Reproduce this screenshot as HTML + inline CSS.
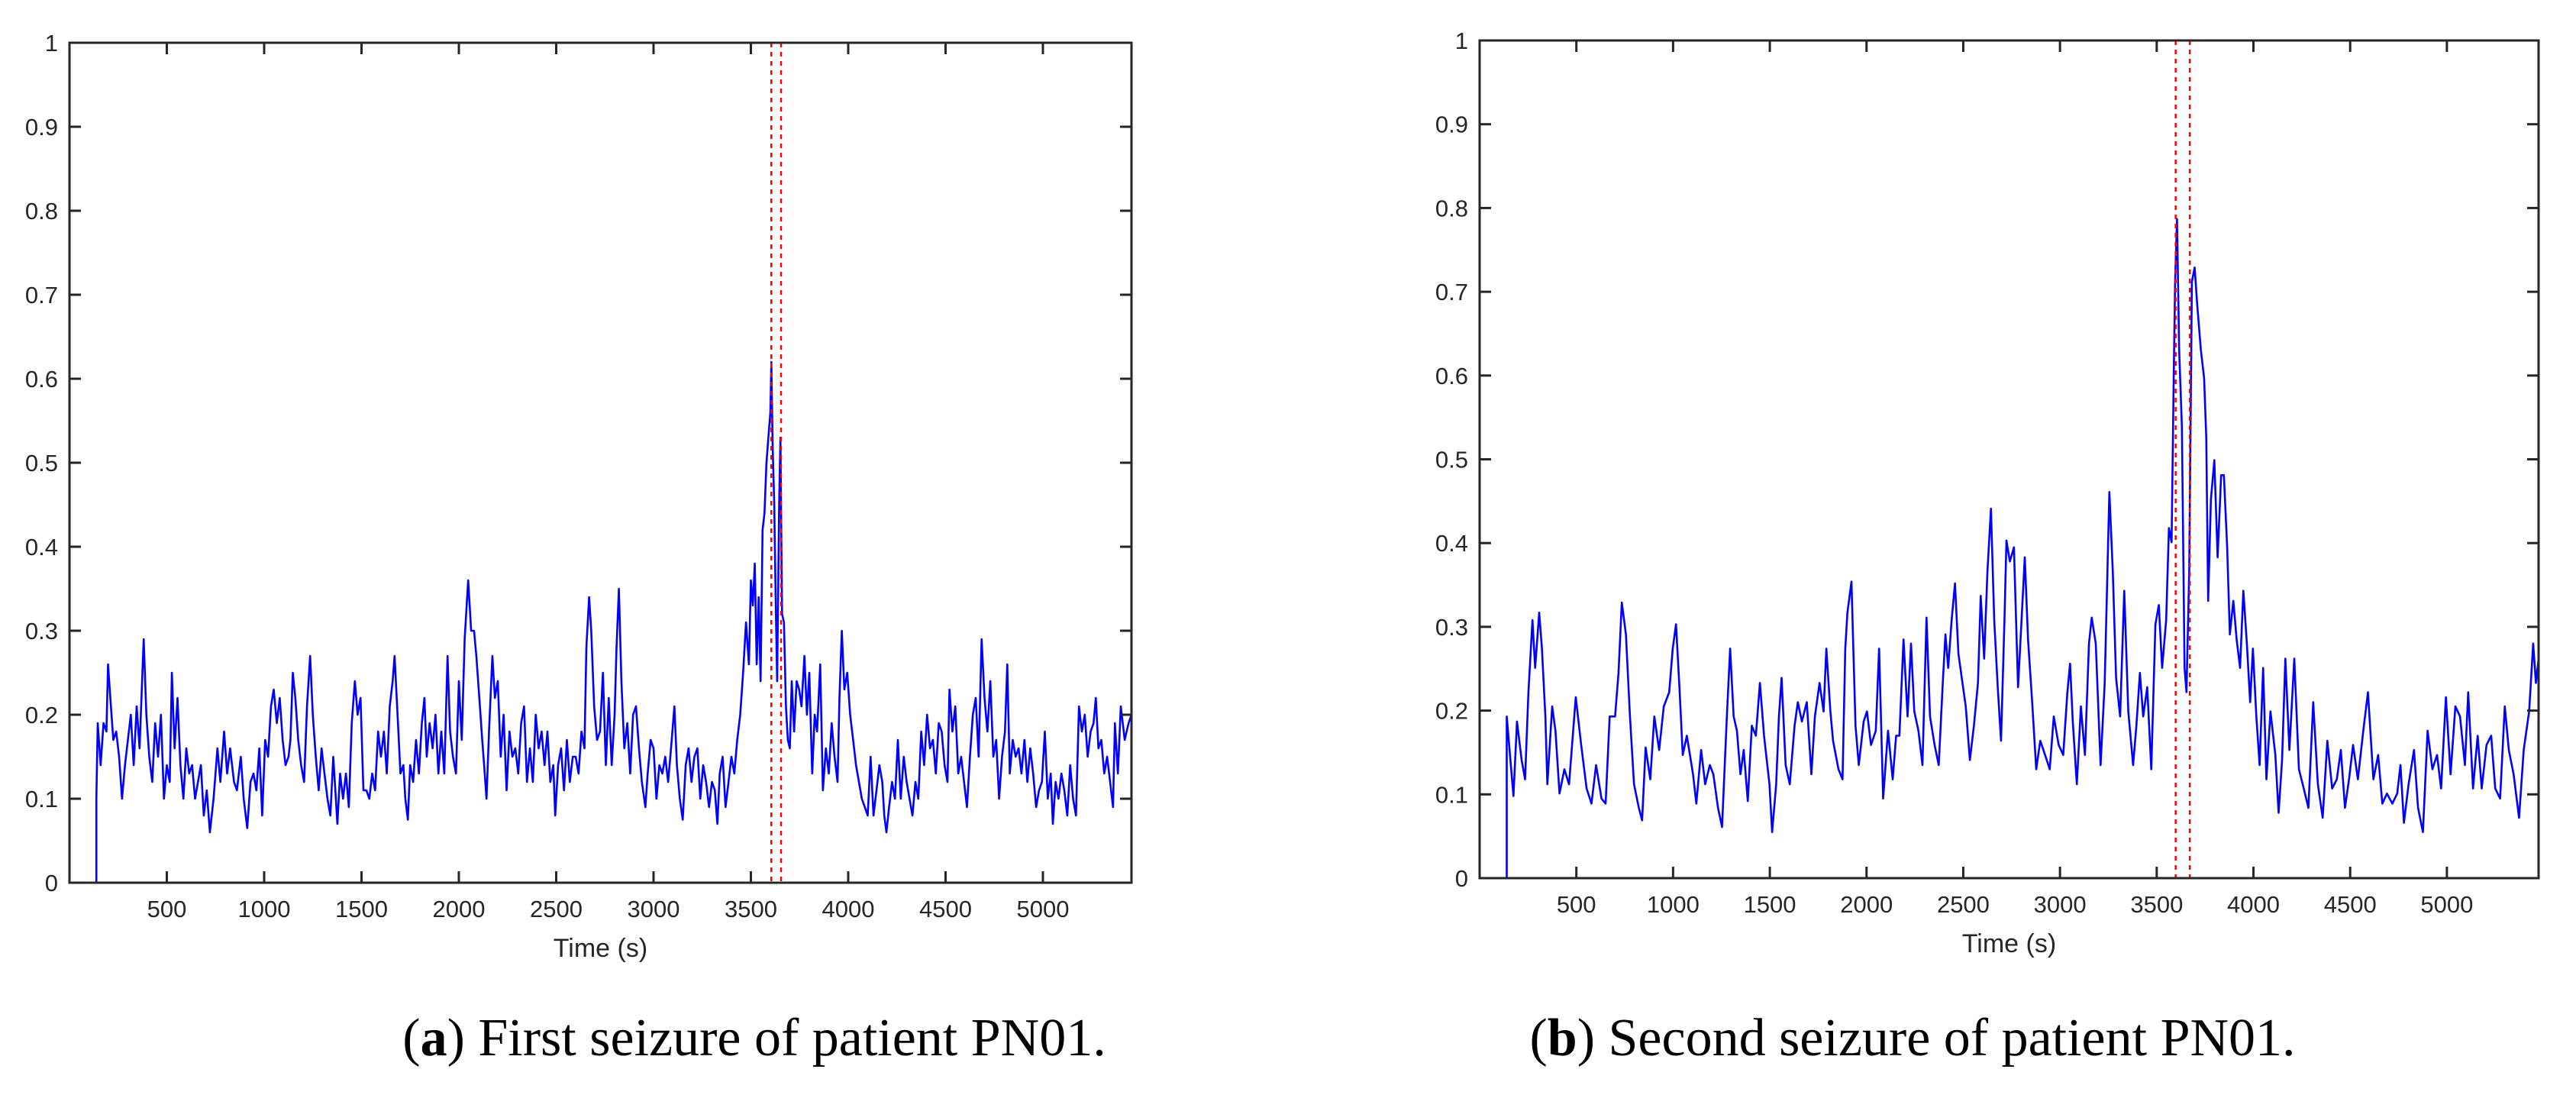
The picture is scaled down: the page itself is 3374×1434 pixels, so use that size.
<!DOCTYPE html>
<html><head><meta charset="utf-8"><style>
html,body{margin:0;padding:0;background:#fff;}
svg{display:block;}
</style></head>
<body>
<svg id="chart" width="3374" height="1434" viewBox="0 0 3374 1434" xmlns="http://www.w3.org/2000/svg">
<rect width="3374" height="1434" fill="#fff"/>
<g id="panelA"></g>
<g id="panelB"></g>
<text x="988" y="1382" text-anchor="middle" font-family="Liberation Serif, serif" font-size="70" fill="#000">(<tspan font-weight="bold">a</tspan>) First seizure of patient PN01.</text>
<text x="2505" y="1382" text-anchor="middle" font-family="Liberation Serif, serif" font-size="70" fill="#000">(<tspan font-weight="bold">b</tspan>) Second seizure of patient PN01.</text>
</svg>
<script>
const xTicks = [500,1000,1500,2000,2500,3000,3500,4000,4500,5000];
const yTicks = [0,0.1,0.2,0.3,0.4,0.5,0.6,0.7,0.8,0.9,1];
const yTickLabels = ["0","0.1","0.2","0.3","0.4","0.5","0.6","0.7","0.8","0.9","1"];
const xLabel = "Time (s)";

const timesA = [0,138,138,145,160,175,190,198,210,225,240,255,270,285,300,315,330,345,360,381,395,410,425,440,455,470,485,500,515,526,540,555,570,585,600,615,630,645,660,675,690,705,721,740,760,775,794,810,825,845,860,880,895,913,930,945,960,975,990,1005,1020,1035,1049,1065,1080,1095,1110,1125,1135,1147,1160,1175,1190,1205,1220,1236,1250,1265,1280,1295,1310,1325,1340,1355,1376,1390,1405,1420,1435,1450,1466,1480,1495,1510,1525,1540,1555,1570,1585,1600,1615,1630,1645,1660,1670,1685,1700,1715,1725,1738,1750,1765,1780,1795,1810,1823,1835,1850,1865,1880,1895,1910,1925,1942,1955,1970,1985,2000,2015,2030,2048,2063,2078,2090,2105,2120,2130,2142,2155,2172,2185,2200,2215,2230,2245,2260,2275,2290,2305,2320,2335,2350,2365,2380,2395,2410,2425,2440,2455,2470,2485,2495,2510,2525,2540,2555,2570,2585,2600,2615,2630,2645,2655,2669,2680,2695,2710,2725,2740,2755,2770,2785,2800,2810,2822,2835,2850,2865,2880,2895,2910,2925,2940,2958,2970,2985,3000,3015,3030,3045,3060,3075,3090,3107,3120,3135,3150,3165,3180,3195,3210,3225,3240,3255,3270,3285,3300,3315,3328,3340,3355,3370,3385,3400,3415,3430,3445,3460,3475,3490,3500,3510,3520,3530,3540,3550,3560,3570,3580,3590,3600,3605,3612,3620,3628,3635,3645,3652,3660,3670,3680,3690,3700,3710,3722,3735,3748,3760,3775,3788,3800,3815,3828,3840,3856,3870,3885,3900,3915,3930,3945,3955,3967,3980,3995,4010,4025,4040,4055,4070,4085,4100,4115,4130,4145,4160,4175,4185,4196,4210,4225,4240,4255,4270,4285,4300,4315,4330,4345,4360,4375,4390,4405,4420,4435,4450,4465,4480,4495,4510,4520,4535,4550,4565,4580,4595,4610,4625,4640,4655,4670,4685,4700,4715,4730,4745,4760,4775,4790,4805,4817,4830,4845,4860,4875,4890,4905,4920,4935,4950,4965,4980,4995,5010,5025,5040,5051,5065,5080,5095,5110,5125,5140,5155,5170,5185,5200,5215,5230,5245,5260,5272,5285,5300,5315,5330,5345,5360,5370,5385,5400,5420,5440,5455];
const valuesA = [0,0,0.10,0.19,0.14,0.19,0.18,0.26,0.22,0.17,0.18,0.15,0.10,0.14,0.17,0.20,0.14,0.21,0.16,0.29,0.20,0.15,0.12,0.19,0.15,0.20,0.10,0.14,0.12,0.25,0.16,0.22,0.14,0.10,0.16,0.13,0.14,0.10,0.12,0.14,0.08,0.11,0.06,0.10,0.16,0.12,0.18,0.13,0.16,0.12,0.11,0.15,0.10,0.065,0.12,0.13,0.11,0.16,0.08,0.17,0.15,0.21,0.23,0.19,0.22,0.17,0.14,0.15,0.17,0.25,0.22,0.17,0.14,0.12,0.21,0.27,0.20,0.15,0.11,0.16,0.13,0.10,0.08,0.15,0.07,0.13,0.10,0.13,0.09,0.19,0.24,0.20,0.22,0.11,0.11,0.10,0.13,0.11,0.18,0.15,0.18,0.13,0.21,0.24,0.27,0.20,0.13,0.14,0.10,0.075,0.14,0.12,0.17,0.13,0.19,0.22,0.15,0.19,0.16,0.20,0.13,0.18,0.13,0.27,0.18,0.15,0.13,0.24,0.17,0.29,0.36,0.30,0.30,0.27,0.22,0.17,0.14,0.10,0.18,0.27,0.22,0.24,0.15,0.20,0.11,0.18,0.15,0.16,0.13,0.19,0.21,0.12,0.16,0.12,0.20,0.16,0.18,0.14,0.18,0.12,0.14,0.08,0.14,0.16,0.11,0.17,0.12,0.15,0.15,0.13,0.18,0.16,0.28,0.34,0.30,0.21,0.17,0.18,0.25,0.14,0.22,0.14,0.20,0.28,0.35,0.24,0.16,0.19,0.13,0.20,0.21,0.16,0.12,0.09,0.13,0.17,0.16,0.10,0.14,0.13,0.15,0.12,0.16,0.21,0.14,0.10,0.075,0.14,0.16,0.12,0.15,0.16,0.10,0.14,0.12,0.09,0.12,0.11,0.07,0.13,0.15,0.09,0.12,0.15,0.13,0.17,0.20,0.25,0.31,0.26,0.36,0.33,0.38,0.26,0.34,0.24,0.42,0.44,0.50,0.53,0.56,0.62,0.52,0.45,0.33,0.24,0.45,0.53,0.32,0.31,0.21,0.17,0.16,0.24,0.18,0.24,0.23,0.21,0.27,0.20,0.25,0.13,0.20,0.18,0.26,0.11,0.16,0.13,0.19,0.15,0.12,0.22,0.30,0.23,0.25,0.20,0.17,0.14,0.12,0.10,0.09,0.08,0.15,0.08,0.11,0.14,0.12,0.08,0.06,0.09,0.12,0.10,0.17,0.10,0.15,0.12,0.10,0.08,0.12,0.10,0.18,0.14,0.20,0.16,0.17,0.13,0.19,0.18,0.14,0.12,0.23,0.18,0.21,0.13,0.15,0.12,0.09,0.15,0.20,0.22,0.15,0.29,0.22,0.18,0.24,0.15,0.17,0.10,0.15,0.18,0.26,0.13,0.17,0.15,0.16,0.13,0.17,0.12,0.16,0.13,0.09,0.11,0.12,0.18,0.10,0.13,0.07,0.12,0.10,0.13,0.11,0.08,0.14,0.10,0.08,0.21,0.18,0.20,0.15,0.18,0.19,0.22,0.16,0.17,0.13,0.15,0.12,0.09,0.19,0.13,0.21,0.17,0.19,0.20];
const markersA = [3605,3655];

const timesB = [0,140,140,175,193,217,235,252,273,287,308,322,340,350,375,392,413,438,462,497,525,553,578,602,630,651,672,700,718,735,756,777,798,823,840,858,882,903,928,952,980,998,1015,1033,1050,1071,1103,1120,1145,1166,1190,1208,1232,1253,1278,1295,1313,1330,1348,1365,1386,1407,1428,1449,1470,1498,1512,1533,1547,1561,1582,1603,1628,1645,1666,1691,1715,1733,1757,1778,1792,1813,1827,1855,1876,1890,1901,1922,1943,1960,1985,2002,2023,2048,2065,2086,2111,2135,2153,2170,2191,2212,2230,2247,2268,2289,2310,2328,2352,2373,2394,2408,2422,2440,2457,2475,2496,2513,2534,2555,2576,2590,2608,2625,2643,2660,2678,2695,2713,2723,2741,2762,2783,2800,2818,2835,2856,2877,2898,2923,2947,2968,2993,3017,3038,3052,3066,3087,3108,3129,3150,3164,3185,3210,3231,3255,3273,3290,3311,3332,3353,3378,3395,3413,3430,3451,3472,3493,3511,3528,3549,3563,3577,3588,3595,3605,3616,3630,3644,3654,3668,3682,3696,3710,3728,3745,3756,3766,3780,3798,3815,3833,3847,3864,3878,3896,3913,3931,3948,3966,3983,3997,4015,4032,4050,4067,4088,4113,4130,4148,4165,4186,4211,4235,4260,4284,4309,4333,4358,4382,4407,4431,4452,4473,4494,4515,4540,4568,4592,4620,4645,4666,4690,4718,4743,4760,4778,4802,4830,4851,4876,4900,4925,4949,4970,4995,5019,5044,5068,5093,5110,5135,5159,5180,5205,5229,5250,5275,5299,5320,5345,5373,5397,5425,5446,5460,5474];
const valuesB = [0,0,0.193,0.098,0.187,0.141,0.118,0.222,0.308,0.251,0.317,0.274,0.193,0.112,0.205,0.176,0.101,0.130,0.112,0.216,0.159,0.107,0.089,0.135,0.095,0.089,0.193,0.193,0.245,0.329,0.291,0.193,0.112,0.084,0.069,0.156,0.118,0.193,0.153,0.205,0.222,0.274,0.303,0.228,0.147,0.170,0.124,0.089,0.153,0.112,0.135,0.124,0.084,0.061,0.193,0.274,0.193,0.176,0.124,0.153,0.092,0.182,0.170,0.233,0.170,0.112,0.055,0.112,0.193,0.239,0.135,0.112,0.182,0.210,0.187,0.210,0.124,0.193,0.233,0.199,0.274,0.199,0.164,0.130,0.118,0.274,0.317,0.354,0.182,0.135,0.187,0.199,0.159,0.176,0.274,0.095,0.176,0.118,0.170,0.170,0.285,0.193,0.280,0.199,0.176,0.135,0.311,0.193,0.159,0.135,0.233,0.291,0.251,0.308,0.352,0.268,0.233,0.205,0.141,0.182,0.233,0.337,0.262,0.366,0.441,0.308,0.228,0.164,0.308,0.403,0.378,0.395,0.228,0.303,0.383,0.285,0.210,0.130,0.164,0.147,0.130,0.193,0.159,0.147,0.222,0.256,0.187,0.112,0.205,0.147,0.280,0.311,0.280,0.135,0.233,0.461,0.366,0.239,0.193,0.343,0.199,0.135,0.182,0.245,0.193,0.228,0.130,0.303,0.326,0.251,0.308,0.418,0.401,0.597,0.712,0.787,0.631,0.539,0.251,0.222,0.366,0.712,0.729,0.683,0.631,0.597,0.527,0.331,0.452,0.499,0.383,0.481,0.481,0.395,0.291,0.331,0.285,0.251,0.343,0.280,0.210,0.274,0.193,0.135,0.251,0.118,0.199,0.147,0.078,0.141,0.262,0.153,0.262,0.130,0.107,0.084,0.210,0.112,0.072,0.164,0.107,0.118,0.153,0.084,0.118,0.159,0.118,0.176,0.222,0.118,0.147,0.089,0.101,0.089,0.101,0.135,0.066,0.112,0.153,0.084,0.055,0.176,0.130,0.147,0.107,0.216,0.124,0.205,0.193,0.135,0.222,0.107,0.170,0.107,0.159,0.170,0.107,0.095,0.205,0.153,0.124,0.072,0.153,0.199,0.280,0.233,0.262];
const markersB = [3598,3671];

const NS = "http://www.w3.org/2000/svg";
function mk(tag, attrs, parent){
  const e = document.createElementNS(NS, tag);
  for (const k in attrs) e.setAttribute(k, attrs[k]);
  parent.appendChild(e);
  return e;
}

function drawPanel(g, L, T, W, H, xmax, times, values, markers, tag){
  const sx = v => L + v / xmax * W;
  const sy = v => T + H - v * H;
  const font = "Liberation Sans, Arial, sans-serif";
  let d = "";
  for (let i = 0; i < times.length; i++) d += (i ? "L" : "M") + sx(times[i]).toFixed(1) + " " + sy(values[i]).toFixed(1);
  const line = mk("path", {d: d, fill: "none", stroke: "#0000ff", "stroke-width": 2.6, "stroke-linejoin": "round"}, g);
  
  
  markers.forEach((m, i) => {
    const ml = mk("line", {x1: sx(m), x2: sx(m), y1: T, y2: T + H, stroke: "#ff0000", "stroke-width": 2.5, "stroke-dasharray": "6 6"}, g);
    
    
  });
  const fr = mk("rect", {x: L, y: T, width: W, height: H, fill: "none", stroke: "#262626", "stroke-width": 3}, g);
  
  
  xTicks.forEach(t => {
    const x = sx(t);
    mk("line", {x1: x, x2: x, y1: T + H, y2: T + H - 15, stroke: "#262626", "stroke-width": 3}, g);
    mk("line", {x1: x, x2: x, y1: T, y2: T + 15, stroke: "#262626", "stroke-width": 3}, g);
    const tl = mk("text", {x: x, y: T + H + 45, "text-anchor": "middle", "font-family": font, "font-size": 31, fill: "#262626"}, g);
    tl.textContent = t;
    
    
  });
  yTicks.forEach((t, i) => {
    const y = sy(t);
    mk("line", {x1: L, x2: L + 15, y1: y, y2: y, stroke: "#262626", "stroke-width": 3}, g);
    mk("line", {x1: L + W, x2: L + W - 15, y1: y, y2: y, stroke: "#262626", "stroke-width": 3}, g);
    const tl = mk("text", {x: L - 15, y: y + 11, "text-anchor": "end", "font-family": font, "font-size": 31, fill: "#262626"}, g);
    tl.textContent = yTickLabels[i];
    
    
  });
  const xl = mk("text", {x: L + W / 2, y: T + H + 97, "text-anchor": "middle", "font-family": font, "font-size": 34, fill: "#262626"}, g);
  xl.textContent = xLabel;
  
  
}

drawPanel(document.getElementById("panelA"), 91, 56, 1391, 1100, 5455, timesA, valuesA, markersA, "a");
drawPanel(document.getElementById("panelB"), 1938, 53, 1387, 1097, 5474, timesB, valuesB, markersB, "b");
</script>
</body></html>
